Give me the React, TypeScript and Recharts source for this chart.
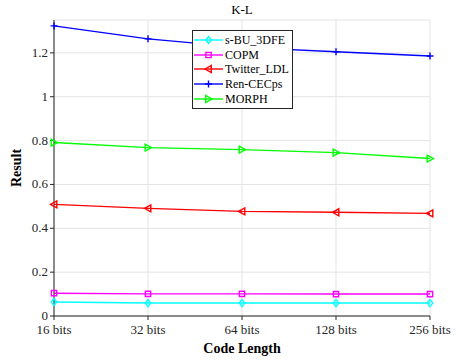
import React from 'react';
import {
  LineChart,
  Line,
  XAxis,
  YAxis,
  CartesianGrid,
} from 'recharts';

const codeLengths = ['16 bits', '32 bits', '64 bits', '128 bits', '256 bits'];
const sBu3dfe = [0.064, 0.059, 0.059, 0.059, 0.059];
const copm = [0.104, 0.101, 0.101, 0.1, 0.1];
const twitterLdl = [0.509, 0.491, 0.477, 0.473, 0.468];
const renCecps = [1.323, 1.264, 1.225, 1.205, 1.186];
const morph = [0.791, 0.768, 0.759, 0.745, 0.718];
const yTicks = [0, 0.2, 0.4, 0.6, 0.8, 1, 1.2];

const seriesList = [
  { key: 'sBu', name: 's-BU_3DFE', color: '#00ffff', shape: 'diamond', values: sBu3dfe },
  { key: 'copm', name: 'COPM', color: '#ff00ff', shape: 'square', values: copm },
  { key: 'twitter', name: 'Twitter_LDL', color: '#ff0000', shape: 'left', values: twitterLdl },
  { key: 'ren', name: 'Ren-CECps', color: '#0000ff', shape: 'plus', values: renCecps },
  { key: 'morph', name: 'MORPH', color: '#00ff00', shape: 'right', values: morph },
];

const data = codeLengths.map((name, i) => {
  const row: any = { name };
  seriesList.forEach((s) => {
    row[s.key] = s.values[i];
  });
  return row;
});

const font = '"Liberation Serif", "Times New Roman", serif';

function markerPath(shape: string, x: number, y: number, r: number) {
  switch (shape) {
    case 'diamond':
      return `M${x},${y - r}L${x + r * 0.8},${y}L${x},${y + r}L${x - r * 0.8},${y}Z`;
    case 'square':
      return `M${x - r * 0.75},${y - r * 0.75}h${r * 1.5}v${r * 1.5}h${-r * 1.5}Z`;
    case 'left':
      return `M${x - r},${y}L${x + r * 0.8},${y - r}L${x + r * 0.8},${y + r}Z`;
    case 'right':
      return `M${x + r},${y}L${x - r * 0.8},${y - r}L${x - r * 0.8},${y + r}Z`;
    case 'plus':
      return `M${x - r},${y}H${x + r}M${x},${y - r}V${y + r}`;
    default:
      return '';
  }
}

const Marker = ({ shape, color, x, y }: { shape: string; color: string; x: number; y: number }) => (
  <path d={markerPath(shape, x, y, 3.5)} fill="none" stroke={color} strokeWidth={1.4} />
);

const tickStyle = { fontFamily: font, fontSize: 13, fill: '#262626' };

const XTick = ({ x, y, payload }: any) => (
  <text x={x} y={y + 12} textAnchor="middle" style={tickStyle}>
    {payload.value}
  </text>
);

const YTick = ({ x, y, payload }: any) => (
  <text x={x} y={y + 4} textAnchor="end" style={tickStyle}>
    {payload.value}
  </text>
);

const LegendBox = () => (
  <div
    style={{
      position: 'absolute',
      left: 192,
      top: 30,
      border: '1px solid #262626',
      background: '#fff',
      width: 99,
      padding: '2px 0',
      fontFamily: font,
      fontSize: 12,
      color: '#000',
    }}
  >
    {seriesList.map((s) => (
      <div key={s.key} style={{ display: 'flex', alignItems: 'center', height: 14.6 }}>
        <svg width={31} height={12} style={{ flexShrink: 0 }}>
          <line x1={1} y1={6} x2={30} y2={6} stroke={s.color} strokeWidth={1.4} />
          <Marker shape={s.shape} color={s.color} x={15.5} y={6} />
        </svg>
        <span style={{ marginLeft: 1, lineHeight: '14px' }}>{s.name}</span>
      </div>
    ))}
  </div>
);

export default function App() {
  return (
    <div
      style={{
        position: 'absolute',
        left: 0,
        top: 0,
        width: 456,
        height: 362,
        background: '#fff',
        fontFamily: font,
      }}
    >
      <div
        style={{
          position: 'absolute',
          left: 0,
          width: 484,
          top: 2,
          textAlign: 'center',
          fontFamily: font,
          fontSize: 13,
        }}
      >
        K-L
      </div>
      <LineChart
        width={456}
        height={362}
        data={data}
        margin={{ top: 20, right: 26, left: 0, bottom: 0 }}
      >
        <CartesianGrid stroke="#e3e3e3" strokeWidth={1} />
        <XAxis
          dataKey="name"
          height={46}
          axisLine={{ stroke: '#262626' }}
          tickLine={{ stroke: '#262626' }}
          tickSize={4}
          tick={<XTick />}
          label={{
            value: 'Code Length',
            position: 'insideBottom',
            offset: 9,
            style: { fontFamily: font, fontSize: 14, fontWeight: 'bold', fill: '#000' },
          }}
          interval={0}
        />
        <XAxis
          xAxisId="top"
          dataKey="name"
          orientation="top"
          height={0}
          tick={false}
          axisLine={{ stroke: '#8c8c8c' }}
          tickLine={false}
        />
        <YAxis
          domain={[0, 1.35]}
          ticks={yTicks}
          width={54}
          axisLine={{ stroke: '#262626' }}
          tickLine={{ stroke: '#262626' }}
          tickSize={4}
          tick={<YTick />}
          allowDataOverflow
          label={{
            value: 'Result',
            angle: -90,
            position: 'insideLeft',
            offset: 16,
            style: { fontFamily: font, fontSize: 14, fontWeight: 'bold', fill: '#000', textAnchor: 'middle' },
          }}
        />
        <YAxis
          yAxisId="right"
          orientation="right"
          domain={[0, 1.35]}
          width={0}
          tick={false}
          tickLine={false}
          axisLine={{ stroke: '#262626' }}
        />
        {seriesList.map((s) => (
          <Line
            key={s.key}
            dataKey={s.key}
            name={s.name}
            stroke={s.color}
            strokeWidth={1.4}
            isAnimationActive={false}
            dot={(p: any) => (
              <Marker key={`${s.key}-${p.index}`} shape={s.shape} color={s.color} x={p.cx} y={p.cy} />
            )}
            activeDot={false}
          />
        ))}
      </LineChart>
      <LegendBox />
    </div>
  );
}
